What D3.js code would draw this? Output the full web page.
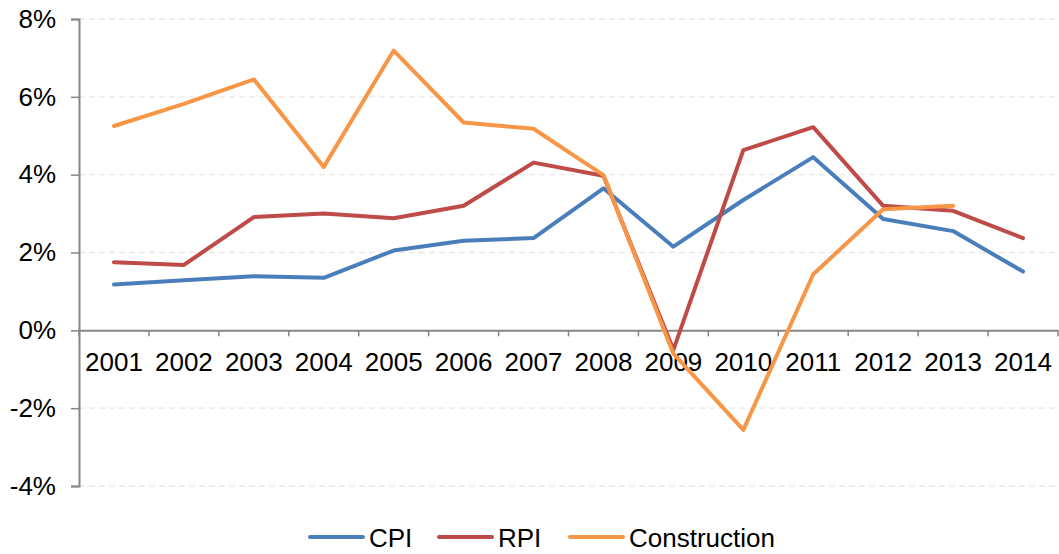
<!DOCTYPE html>
<html>
<head>
<meta charset="utf-8">
<script src="https://cdn.jsdelivr.net/npm/d3@7"></script>
<style>
  html, body { margin: 0; padding: 0; background: #fff; }
  svg { display: block; font-family: "Liberation Sans", Arial, sans-serif; }
</style>
</head>
<body>
<svg id="chart" width="1059" height="554"></svg>
<script>
const years = ["2001","2002","2003","2004","2005","2006","2007","2008","2009","2010","2011","2012","2013","2014"];
const cpi = [1.18, 1.29, 1.39, 1.35, 2.05, 2.30, 2.37, 3.65, 2.15, 3.35, 4.45, 2.86, 2.55, 1.51];
const rpi = [1.75, 1.68, 2.91, 3.00, 2.88, 3.20, 4.31, 3.97, -0.50, 4.63, 5.22, 3.20, 3.07, 2.37];
const construction = [5.25, 5.82, 6.45, 4.20, 7.19, 5.34, 5.18, 3.99, -0.60, -2.56, 1.44, 3.11, 3.20, null];
const yTicks = [-4, -2, 0, 2, 4, 6, 8];
const seriesNames = ["CPI", "RPI", "Construction"];
const seriesColors = ["#4a7ebb", "#be4b48", "#f79646"];

(function () {
const FS = 26;
const series = [cpi, rpi, construction].map((vals, i) => ({
  name: seriesNames[i], color: seriesColors[i],
  values: vals.map((v, j) => ({ year: years[j], v }))
}));

const svg = d3.select("#chart");
const plotL = 79, plotR = 1058, plotT = 19, plotB = 486;

const x = d3.scaleBand().domain(years).range([plotL, plotR]).padding(0);
const y = d3.scaleLinear().domain([-4, 8]).range([plotB, plotT]);

// gridlines
svg.append("g").selectAll("line")
  .data(yTicks.filter(t => t !== 0))
  .join("line")
  .attr("x1", plotL).attr("x2", plotR)
  .attr("y1", d => y(d)).attr("y2", d => y(d))
  .attr("stroke", "#e8e8e8").attr("stroke-width", 1.3)
  .attr("stroke-dasharray", "6,4");

// y axis
const yAxis = svg.append("g")
  .attr("transform", `translate(${plotL},0)`)
  .call(d3.axisLeft(y).tickValues(yTicks).tickSize(8).tickPadding(15).tickFormat(d => d + "%"));
yAxis.select(".domain").attr("stroke", "#868686").attr("stroke-width", 2);
yAxis.selectAll(".tick line").attr("stroke", "#868686").attr("stroke-width", 1.5);
yAxis.selectAll("text").attr("font-size", FS).attr("fill", "#000")
  .attr("font-family", "'Liberation Sans', Arial, sans-serif");

// x axis at zero
const xAxis = svg.append("g")
  .attr("transform", `translate(0,${y(0)})`)
  .call(d3.axisBottom(x).tickSize(0).tickPadding(22));
xAxis.select(".domain").attr("stroke", "#868686").attr("stroke-width", 2);
xAxis.selectAll("text").attr("font-size", FS).attr("fill", "#000")
  .attr("font-family", "'Liberation Sans', Arial, sans-serif");
// boundary ticks
svg.append("g").selectAll("line")
  .data(years.map((yr) => x(yr) + x.bandwidth()).concat([plotL]))
  .join("line")
  .attr("x1", d => d).attr("x2", d => d)
  .attr("y1", y(0)).attr("y2", y(0) + 6)
  .attr("stroke", "#868686").attr("stroke-width", 1.5);

// lines
const line = d3.line()
  .defined(d => d.v !== null)
  .x(d => x(d.year) + x.bandwidth() / 2)
  .y(d => y(d.v));

svg.append("g").selectAll("path")
  .data(series)
  .join("path")
  .attr("d", d => line(d.values))
  .attr("fill", "none")
  .attr("stroke", d => d.color)
  .attr("stroke-width", 4)
  .attr("stroke-linejoin", "round")
  .attr("stroke-linecap", "round");

// legend
const legendX = [310, 439, 570];
const legend = svg.append("g").selectAll("g")
  .data(series)
  .join("g")
  .attr("transform", (d, i) => `translate(${legendX[i]},537)`);
legend.append("line")
  .attr("x1", 0).attr("x2", 53).attr("y1", 0).attr("y2", 0)
  .attr("stroke", d => d.color).attr("stroke-width", 4).attr("stroke-linecap", "round");
legend.append("text")
  .attr("x", 59).attr("y", 9.5)
  .attr("font-size", FS).attr("fill", "#000")
  .text(d => d.name);
})();
</script>
</body>
</html>
